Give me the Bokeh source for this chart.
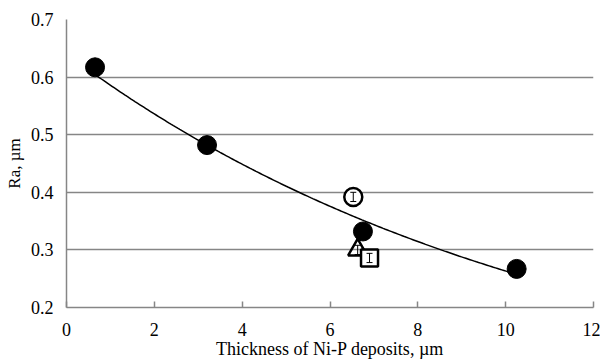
import numpy as np
from bokeh.plotting import figure
from bokeh.models import Range1d, FixedTicker, Whisker, ColumnDataSource
from bokeh.embed import file_html
from bokeh.resources import INLINE

# Filled circles (fitted series)
thickness = [0.65, 3.2, 6.75, 10.25]
ra = [0.617, 0.482, 0.332, 0.267]

# Other specimens
open_circle_x = [6.53]
open_circle_y = [0.392]
triangle_x = [6.63]
triangle_y = [0.300]
square_x = [6.90]
square_y = [0.286]
err = [0.008]

x_ticks = [0, 2, 4, 6, 8, 10, 12]
y_ticks = [0.2, 0.3, 0.4, 0.5, 0.6, 0.7]

FONT = "Liberation Serif"
GRAY = "#868686"

p = figure(width=600, height=362, output_backend="svg", toolbar_location=None,
           x_range=Range1d(0, 12), y_range=Range1d(0.2, 0.7),
           min_border_left=66, min_border_right=7, min_border_top=19, min_border_bottom=55)
p.outline_line_color = None
p.background_fill_color = "white"
p.border_fill_color = "white"

# axes
p.xaxis.ticker = FixedTicker(ticks=x_ticks)
p.yaxis.ticker = FixedTicker(ticks=y_ticks)
p.xaxis.major_label_overrides = {t: str(t) for t in x_ticks}
p.yaxis.major_label_overrides = {t: f"{t:.1f}" for t in y_ticks}
for ax in (p.xaxis, p.yaxis):
    ax.axis_line_color = GRAY
    ax.axis_line_width = 1.5
    ax.major_tick_line_color = GRAY
    ax.major_tick_line_width = 1.5
    ax.minor_tick_line_color = None
    ax.major_label_text_font = FONT
    ax.major_label_text_font_size = "18px"
    ax.major_label_text_color = "black"
    ax.axis_label_text_font = FONT
    ax.axis_label_text_font_style = "normal"
    ax.axis_label_text_color = "black"
p.xaxis.major_tick_in = 6
p.xaxis.major_tick_out = 0
p.yaxis.major_tick_in = 0
p.yaxis.major_tick_out = 0
p.xaxis.major_label_standoff = 15
p.yaxis.major_label_standoff = 13
p.xaxis.axis_label = "Thickness of Ni-P deposits, µm"
p.yaxis.axis_label = "Ra, µm"
p.xaxis.axis_label_text_font_size = "18px"
p.yaxis.axis_label_text_font_size = "17px"
p.xaxis.axis_label_standoff = 0
p.yaxis.axis_label_standoff = 4

p.xgrid.grid_line_color = None
p.ygrid.grid_line_color = GRAY
p.ygrid.grid_line_width = 1.5
p.ygrid.ticker = FixedTicker(ticks=y_ticks)

# exponential trend line fitted to the filled circles
b, lna = np.polyfit(np.array(thickness), np.log(np.array(ra)), 1)
xs = np.linspace(min(thickness), max(thickness), 200)
p.line(xs, np.exp(lna) * np.exp(b * xs), line_color="black", line_width=1.5)

# filled circles
p.scatter(thickness, ra, marker="circle", size=19, fill_color="black", line_color="black")

# triangle
p.scatter(triangle_x, triangle_y, marker="triangle", size=19, fill_color="white",
          fill_alpha=0.0, line_color="black", line_width=2.5)
# square
p.scatter(square_x, square_y, marker="square", size=17, fill_color="white",
          line_color="black", line_width=2.5)
# open circle
p.scatter(open_circle_x, open_circle_y, marker="circle", size=18, fill_color="white",
          line_color="black", line_width=2.5)

# error bars
ex = open_circle_x + triangle_x + square_x
ey = open_circle_y + triangle_y + square_y
src = ColumnDataSource(dict(x=ex, lo=[v - err[0] for v in ey], hi=[v + err[0] for v in ey]))
w = Whisker(source=src, base="x", lower="lo", upper="hi", line_color="black", line_width=1,
            level="overlay")
w.upper_head.size = 6
w.lower_head.size = 6
w.upper_head.line_color = "black"
w.lower_head.line_color = "black"
p.add_layout(w)

open("out.html", "w").write(file_html(p, INLINE))
